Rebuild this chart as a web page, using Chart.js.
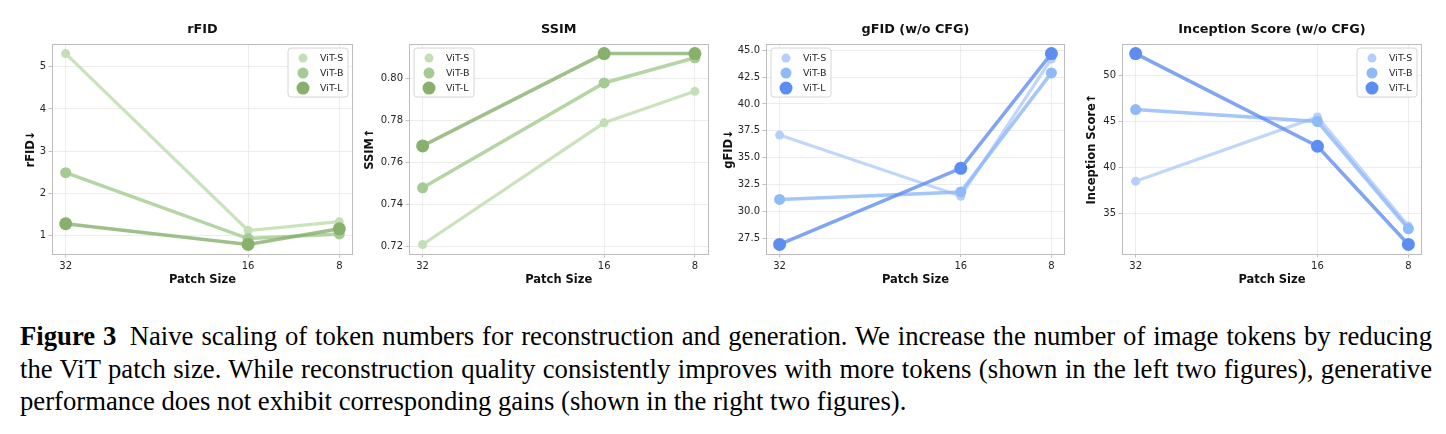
<!DOCTYPE html>
<html><head><meta charset="utf-8">
<script src="https://cdn.jsdelivr.net/npm/chart.js@4.4.1/dist/chart.umd.min.js"></script>
<style>
html,body{margin:0;padding:0;background:#fff;width:1446px;height:434px;overflow:hidden;position:relative;}
canvas{position:absolute;top:0;}
#cap{position:absolute;left:20px;top:320px;width:1412px;font-family:"Liberation Serif","Times New Roman",serif;font-size:26.7px;line-height:32.5px;text-align:justify;text-align-last:left;color:#000;}
</style></head><body>
<canvas id="c0" width="360" height="300" style="left:0px"></canvas>
<canvas id="c1" width="355" height="300" style="left:360px"></canvas>
<canvas id="c2" width="357" height="300" style="left:715px"></canvas>
<canvas id="c3" width="374" height="300" style="left:1072px"></canvas>
<div id="cap"><b>Figure 3</b>&ensp;Naive scaling of token numbers for reconstruction and generation. We increase the number of image tokens by reducing the ViT patch size. While reconstruction quality consistently improves with more tokens (shown in the left two figures), generative performance does not exhibit corresponding gains (shown in the right two figures).</div>
<script>
// ---- data ----
const patchSizes = [32, 16, 8];
const seriesLabels = ['ViT-S', 'ViT-B', 'ViT-L'];
const rfidS = [5.31, 1.12, 1.33];
const rfidB = [2.49, 0.93, 1.04];
const rfidL = [1.28, 0.79, 1.16];
const ssimS = [0.721, 0.779, 0.794];
const ssimB = [0.748, 0.798, 0.810];
const ssimL = [0.768, 0.812, 0.812];
const gfidS = [37.1, 31.4, 44.2];
const gfidB = [31.1, 31.8, 42.9];
const gfidL = [26.9, 34.0, 44.7];
const isS = [38.5, 45.5, 33.6];
const isB = [46.3, 45.0, 33.3];
const isL = [52.4, 42.3, 31.6];
const rfidTicks = [1, 2, 3, 4, 5];
const ssimTicks = [0.72, 0.74, 0.76, 0.78, 0.80];
const gfidTicks = [27.5, 30, 32.5, 35, 37.5, 40, 42.5, 45];
const isTicks = [35, 40, 45, 50];

Chart.defaults.font.family = '"DejaVu Sans", sans-serif';

const greenStyle = [
  {pt: '#c3dfb5', ln: 'rgba(187,219,171,0.78)', r: 4.5, w: 3.2},
  {pt: '#a4cb91', ln: 'rgba(160,201,140,0.78)', r: 5.5, w: 3.5},
  {pt: '#88b06d', ln: 'rgba(132,174,106,0.78)', r: 6.5, w: 3.5}
];
const blueStyle = [
  {pt: '#b5cefa', ln: 'rgba(176,203,250,0.78)', r: 4.5, w: 3.2},
  {pt: '#8ebaf8', ln: 'rgba(138,182,248,0.78)', r: 5.5, w: 3.5},
  {pt: '#5c8ef1', ln: 'rgba(92,140,240,0.78)', r: 6.5, w: 3.5}
];

const legendPlugin = {
  id: 'insideLegend',
  afterDatasetsDraw(chart, args, opts) {
    const ctx = chart.ctx, a = chart.chartArea;
    ctx.save();
    ctx.strokeStyle = '#bdbdbd';
    ctx.lineWidth = 1;
    ctx.strokeRect(Math.round(a.left) + 0.5, Math.round(a.top) + 0.5, Math.round(a.right - a.left) - 1, Math.round(a.bottom - a.top));
    const w = 60, h = 49;
    const x = opts.side === 'left' ? a.left + 5 : a.right - 5 - w;
    const y = a.top + 4;
    const r = 3;
    ctx.beginPath();
    ctx.moveTo(x + r, y); ctx.lineTo(x + w - r, y); ctx.arcTo(x + w, y, x + w, y + r, r);
    ctx.lineTo(x + w, y + h - r); ctx.arcTo(x + w, y + h, x + w - r, y + h, r);
    ctx.lineTo(x + r, y + h); ctx.arcTo(x, y + h, x, y + h - r, r);
    ctx.lineTo(x, y + r); ctx.arcTo(x, y, x + r, y, r); ctx.closePath();
    ctx.fillStyle = 'rgba(255,255,255,0.85)'; ctx.fill();
    ctx.strokeStyle = '#d6d6d6'; ctx.stroke();
    chart.data.datasets.forEach((ds, i) => {
      const cy = y + 10 + i * 15;
      ctx.beginPath();
      ctx.arc(x + 15, cy, ds.pointRadius, 0, Math.PI * 2);
      ctx.fillStyle = ds.pointBackgroundColor; ctx.fill();
      ctx.fillStyle = '#262626';
      ctx.font = '9.5px "DejaVu Sans"';
      ctx.textBaseline = 'middle'; ctx.textAlign = 'left';
      ctx.fillText(ds.label, x + 32, cy);
    });
    ctx.restore();
  }
};

function makePanel(id, cfg) {
  const all = cfg.series.flat();
  const dmin = Math.min(...all), dmax = Math.max(...all);
  const m = (dmax - dmin) * 0.05;
  const pmin = Math.min(...patchSizes), pmax = Math.max(...patchSizes);
  const pm = (pmax - pmin) * 0.05;
  const datasets = cfg.series.map((vals, i) => ({
    label: seriesLabels[i],
    data: patchSizes.map((p, j) => ({x: p, y: vals[j]})),
    borderColor: cfg.style[i].ln,
    backgroundColor: cfg.style[i].pt,
    pointBackgroundColor: cfg.style[i].pt,
    pointBorderWidth: 0,
    pointRadius: cfg.style[i].r,
    borderWidth: cfg.style[i].w,
    tension: 0,
    order: 2 - i
  }));
  new Chart(document.getElementById(id), {
    type: 'line',
    data: {datasets},
    plugins: [legendPlugin],
    options: {
      responsive: false,
      animation: false,
      devicePixelRatio: 1,
      layout: {padding: {left: cfg.padL, right: cfg.padR, top: 0, bottom: 12.6}},
      plugins: {
        legend: {display: false},
        tooltip: {enabled: false},
        title: {display: true, text: cfg.title, fullSize: false, color: '#111',
          font: {size: 12.8, weight: 'bold'}, padding: {top: 22.3, bottom: 6.4}},
        insideLegend: {side: cfg.legendSide}
      },
      scales: {
        x: {
          type: 'linear', reverse: true, min: pmin - pm, max: pmax + pm,
          afterBuildTicks: s => { s.ticks = patchSizes.map(v => ({value: v})); },
          afterFit: s => { s.height = 33.4; },
          border: {display: false},
          grid: {color: '#e9e9e9', lineWidth: 0.8, tickColor: '#b0b0b0', tickLength: 3.5},
          ticks: {color: '#262626', font: {size: 10}, padding: 2.5, maxRotation: 0,
            callback: v => String(v)},
          title: {display: true, text: 'Patch Size', color: '#111',
            font: {size: 11.5, weight: 'bold'}, padding: {top: 1.6, bottom: 0}}
        },
        y: {
          type: 'linear', min: dmin - m, max: dmax + m,
          afterBuildTicks: s => { s.ticks = cfg.ticks.map(v => ({value: v})); },
          afterFit: s => { s.width = cfg.yW; },
          border: {display: false},
          grid: {color: '#e9e9e9', lineWidth: 0.8, tickColor: '#b0b0b0', tickLength: 3.5},
          ticks: {color: '#262626', font: {size: 10}, padding: 2.5,
            callback: v => cfg.fmt(v)},
          title: {display: true, text: cfg.yLabel, color: '#111',
            font: {size: 11.5, weight: 'bold'}, padding: {top: 0, bottom: 0}}
        }
      }
    }
  });
}

makePanel('c0', {title: 'rFID', yLabel: 'rFID↓', series: [rfidS, rfidB, rfidL], ticks: rfidTicks,
  fmt: v => String(v), style: greenStyle, legendSide: 'right', padL: 24.1, yW: 27.9, padR: 7});
makePanel('c1', {title: 'SSIM', yLabel: 'SSIM↑', series: [ssimS, ssimB, ssimL], ticks: ssimTicks,
  fmt: v => v.toFixed(2), style: greenStyle, legendSide: 'left', padL: 3.1, yW: 45.9, padR: 6});
makePanel('c2', {title: 'gFID (w/o CFG)', yLabel: 'gFID↓', series: [gfidS, gfidB, gfidL], ticks: gfidTicks,
  fmt: v => v.toFixed(1), style: blueStyle, legendSide: 'left', padL: 7.1, yW: 43.9, padR: 7});
makePanel('c3', {title: 'Inception Score (w/o CFG)', yLabel: 'Inception Score↑', series: [isS, isB, isL], ticks: isTicks,
  fmt: v => String(v), style: blueStyle, legendSide: 'right', padL: 13.1, yW: 36.9, padR: 24});
</script>
</body></html>
